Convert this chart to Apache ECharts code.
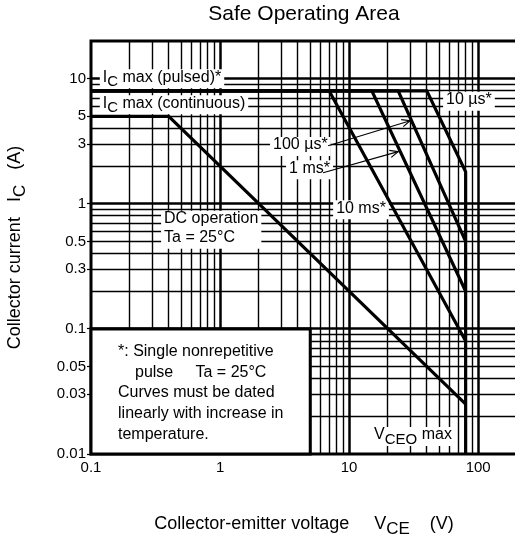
<!DOCTYPE html>
<html><head><meta charset="utf-8">
<script src="https://cdn.jsdelivr.net/npm/echarts@6/dist/echarts.min.js"></script>
<style>html,body{margin:0;padding:0;background:#fff}#c{width:515px;height:540px}</style>
</head><body><div id="c"></div>
<script>
const FONT = '"Liberation Sans", Arial, Helvetica, sans-serif';

// Axis ranges and ticks
const xRange = [0.1, 200];
const yRange = [0.01, 20];
const yTickLabels = [0.01, 0.03, 0.05, 0.1, 0.3, 0.5, 1, 3, 5, 10];
const xGridLines = [0.2,0.3,0.4,0.5,0.6,0.7,0.8,0.9,1,2,3,4,5,6,7,8,9,10,20,30,40,50,60,70,80,90,100];
const yGridLines = [0.02,0.03,0.04,0.05,0.06,0.07,0.08,0.09,0.1,0.2,0.3,0.4,0.5,0.6,0.7,0.8,0.9,1,2,3,4,5,6,7,8,9,10];
const majorLines = [0.1, 1, 10, 100];

// SOA curves [VCE (V), IC (A)]
const dcCurve    = [[0.1,5],[0.4,5],[80,0.025]];
const ms10Curve  = [[0.1,8],[7,8],[80,0.08]];
const ms1Curve   = [[0.1,8],[15,8],[80,0.2]];
const us100Curve = [[0.1,8],[24,8],[80,0.5]];
const us10Curve  = [[0.1,8],[40,8],[80,1.8],[80,0.01]];

// Note box corners
const noteBox = [[0.1,0.1],[5,0.01]];

// Annotation labels: anchor [VCE, IC]
const annotations = [
  {at:[0.117,10],   text:'{n|I}{s|C}{n| max (pulsed)*}'},
  {at:[0.117,6.2],  text:'{n|I}{s|C}{n| max (continuous)}'},
  {at:[53.5,6.6],   text:'{n|10 µs*}'},
  {at:[2.44,2.87],  text:'{n|100 µs*}'},
  {at:[3.25,1.87],  text:'{n|1 ms*}'},
  {at:[7.52,0.895], text:'{n|10 ms*}'},
  {at:[0.349,0.62], text:'{n|DC operation}\n{n|Ta = 25°C}'},
  {at:[14.8,0.0138],text:'{n|V}{s|CEO}{n| max}'},
  {at:[0.1535,0.0295], text:'{n|*: Single nonrepetitive}\n{i|pulse}{n|     Ta = 25°C}\n{n|Curves must be dated}\n{n|linearly with increase in}\n{n|temperature.}', noBg:true, lh:20.6}
];
// Arrows [from, to]
const arrows = [
  [[6.88,2.91],[29.7,4.61]],
  [[6.29,1.77],[24.0,2.61]]
];

const richStyles = {
  n: {fontSize:16, fontFamily:FONT, color:'#000', verticalAlign:'top', lineHeight:19},
  s: {fontSize:15, fontFamily:FONT, color:'#000', verticalAlign:'top', lineHeight:19, padding:[5,0,0,0]},
  i: {fontSize:16, fontFamily:FONT, color:'#000', verticalAlign:'top', lineHeight:19, padding:[0,0,0,17]}
};

function crisp(v, w){ return Math.round(w) % 2 === 1 ? Math.floor(v) + 0.5 : Math.round(v); }

const chart = echarts.init(document.getElementById('c'), null, {renderer:'canvas'});
const option = {
  animation:false,
  backgroundColor:'#fff',
  graphic:[{type:'text', x:304, y:14, style:{text:'Safe Operating Area', font:'21px '+FONT, fill:'#000', align:'center', verticalAlign:'middle', textAlign:'center', textVerticalAlign:'middle'}}],
  grid:{left:91, top:41, right:-2, bottom:86, show:true, borderColor:'#000', borderWidth:3, backgroundColor:'transparent', outerBoundsMode:'none', containLabel:false},
  xAxis:{type:'log', logBase:10, min:xRange[0], max:xRange[1],
    axisLine:{show:false}, axisTick:{show:false}, splitLine:{show:false}, minorSplitLine:{show:false},
    axisLabel:{color:'#000', fontSize:15, fontFamily:FONT, margin:6, showMaxLabel:false,
      formatter:v=>{ const l=Math.log10(v); return Math.abs(l-Math.round(l))<1e-6 ? String(+v.toPrecision(6)) : ''; }},
    name:'{n|Collector-emitter voltage     V}{s|CE}{n|    (V)}', nameLocation:'middle', nameGap:61,
    nameTextStyle:{fontSize:18, fontFamily:FONT, color:'#000',
      rich:{n:{fontSize:18, fontFamily:FONT, color:'#000', verticalAlign:'top', lineHeight:21}, s:{fontSize:17, fontFamily:FONT, color:'#000', verticalAlign:'top', lineHeight:21, padding:[6,0,0,0]}}}
  },
  yAxis:{type:'log', logBase:10, min:yRange[0], max:yRange[1],
    axisLine:{show:false}, axisTick:{show:false}, splitLine:{show:false}, axisLabel:{show:false},
    name:'{n|Collector current   I}{s|C}{n|   (A)}', nameLocation:'middle', nameGap:64, nameRotate:90,
    nameTextStyle:{fontSize:18, fontFamily:FONT, color:'#000',
      rich:{n:{fontSize:18, fontFamily:FONT, color:'#000', verticalAlign:'top', lineHeight:21}, s:{fontSize:17, fontFamily:FONT, color:'#000', verticalAlign:'top', lineHeight:21, padding:[6,0,0,0]}}}
  },
  series:[
    // vertical grid lines
    {type:'custom', silent:true, z:1, data:xGridLines.map(v=>[v, yRange[0]]),
      renderItem:(p,api)=>{ const v=api.value(0); const w=majorLines.includes(v)?2.5:1.4;
        const a=api.coord([v,yRange[0]]), b=api.coord([v,yRange[1]]); const x=crisp(a[0],w);
        return {type:'line', shape:{x1:x,y1:a[1],x2:x,y2:b[1]}, style:{stroke:'#000', lineWidth:w}}; }},
    // horizontal grid lines
    {type:'custom', silent:true, z:1, data:yGridLines.map(v=>[xRange[0], v]),
      renderItem:(p,api)=>{ const v=api.value(1); const w=majorLines.includes(v)?2.5:1.4;
        const a=api.coord([xRange[0],v]), b=api.coord([xRange[1],v]); const y=crisp(a[1],w);
        return {type:'line', shape:{x1:a[0],y1:y,x2:b[0],y2:y}, style:{stroke:'#000', lineWidth:w}}; }},
    // y tick labels and ticks
    {type:'custom', silent:true, z:5, data:yTickLabels.map(v=>[xRange[0], v]),
      renderItem:(p,api)=>{ const v=api.value(1); const a=api.coord([xRange[0],v]); const y=crisp(a[1],1);
        return {type:'group', children:[
          {type:'line', shape:{x1:a[0]-4,y1:y,x2:a[0],y2:y}, style:{stroke:'#000', lineWidth:1.2}},
          {type:'text', x:a[0]-5, y:a[1], style:{text:String(v), fill:'#000', fontSize:15, fontFamily:FONT, align:'right', verticalAlign:'middle', textAlign:'right', textVerticalAlign:'middle'}}
        ]}; }},
    // note box
    {type:'custom', silent:true, z:2, data:[noteBox[0]],
      renderItem:(p,api)=>{ const a=api.coord(noteBox[0]), b=api.coord(noteBox[1]);
        return {type:'rect', shape:{x:a[0], y:a[1], width:b[0]-a[0], height:b[1]-a[1]}, style:{fill:'#fff', stroke:'#000', lineWidth:3}}; }},
    // annotations
    {type:'custom', silent:true, z:3, data:annotations.map(a=>a.at),
      renderItem:(p,api)=>{ const an=annotations[p.dataIndex]; const c=api.coord(an.at);
        const rich={}; for(const k in richStyles){ rich[k]=Object.assign({}, richStyles[k]); if(an.lh) rich[k].lineHeight=an.lh; }
        return {type:'text', x:c[0], y:c[1], style:{text:an.text, rich:rich, fill:'#000', fontSize:16, fontFamily:FONT,
          align:'left', verticalAlign:'middle', textAlign:'left', textVerticalAlign:'middle',
          backgroundColor: an.noBg ? 'transparent' : '#fff', padding:[0,3,0,3]}}; }},
    // arrows
    {type:'custom', silent:true, z:4, data:arrows.map(a=>a[0]),
      renderItem:(p,api)=>{ const ar=arrows[p.dataIndex]; const a=api.coord(ar[0]), b=api.coord(ar[1]);
        const ang=Math.atan2(b[1]-a[1], b[0]-a[0]); const L=9, sp=0.42;
        const h1=[b[0]-L*Math.cos(ang-sp), b[1]-L*Math.sin(ang-sp)], h2=[b[0]-L*Math.cos(ang+sp), b[1]-L*Math.sin(ang+sp)];
        return {type:'group', children:[
          {type:'line', shape:{x1:a[0],y1:a[1],x2:b[0],y2:b[1]}, style:{stroke:'#000', lineWidth:1.2}},
          {type:'polyline', shape:{points:[h1,b,h2]}, style:{stroke:'#000', lineWidth:1.2, fill:null}}
        ]}; }},
    // SOA curves
    ...[dcCurve, ms10Curve, ms1Curve, us100Curve, us10Curve].map(d=>({
      type:'line', data:d, symbol:'none', z:6, silent:true, clip:false,
      lineStyle:{color:'#000', width:3.2, join:'miter'}
    }))
  ]
};
chart.setOption(option);
</script>
</body></html>
